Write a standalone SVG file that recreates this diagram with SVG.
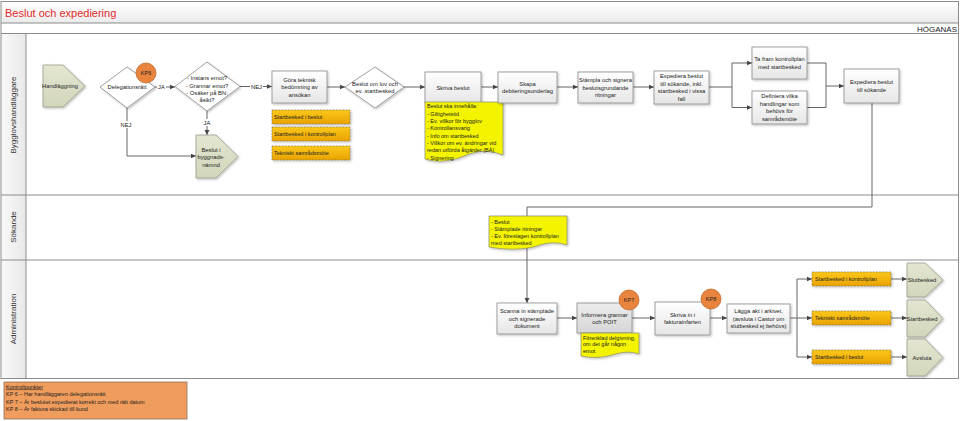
<svg xmlns="http://www.w3.org/2000/svg" width="960" height="421" viewBox="0 0 960 421">
<style>
text{font-family:"Liberation Sans",Arial,sans-serif;fill:#222}
.t{font-size:5.8px;text-anchor:middle}
.n{font-size:5.5px}
.lab{font-size:5.8px;text-anchor:middle}
.lane{font-size:8px;text-anchor:middle;fill:#333}
.box{fill:url(#gBox);stroke:#8a8a8a;stroke-width:0.8;filter:url(#sh)}
.dia{fill:#fff;stroke:#8a8a8a;stroke-width:0.8;filter:url(#sh)}
.pent{fill:url(#gPent);stroke:#9a9a8a;stroke-width:0.8;filter:url(#sh)}
.org{fill:url(#gOrg);stroke:#8a7a50;stroke-width:0.7;stroke-dasharray:2 1.2;filter:url(#sh)}
.note{fill:#f4f400;stroke:#8a8a6a;stroke-width:0.7;filter:url(#sh)}
.kp{fill:#e8843e;stroke:#c0692c;stroke-width:0.8}
.kpt{font-size:5.5px;text-anchor:middle}
.c{fill:none;stroke:#555;stroke-width:0.9}
.ca{fill:none;stroke:#555;stroke-width:0.9;marker-end:url(#ar)}
.frame{fill:none;stroke:#8c8c8c;stroke-width:1}
.bg{fill:#fff;stroke:none}
</style>
<defs>
<linearGradient id="gBox" x1="0" y1="0" x2="0" y2="1"><stop offset="0" stop-color="#ffffff"/><stop offset="1" stop-color="#e6e6e6"/></linearGradient>
<linearGradient id="gGray" x1="0" y1="0" x2="0" y2="1"><stop offset="0" stop-color="#ececec"/><stop offset="1" stop-color="#d6d6d6"/></linearGradient>
<linearGradient id="gPent" x1="0" y1="0" x2="0" y2="1"><stop offset="0" stop-color="#e4e6d2"/><stop offset="1" stop-color="#d2d6ba"/></linearGradient>
<linearGradient id="gOrg" x1="0" y1="0" x2="0" y2="1"><stop offset="0" stop-color="#fbc81a"/><stop offset="1" stop-color="#eaa200"/></linearGradient>
<linearGradient id="gTitle" x1="0" y1="0" x2="0" y2="1"><stop offset="0" stop-color="#ffffff"/><stop offset="1" stop-color="#ebebeb"/></linearGradient>
<linearGradient id="gHead" x1="0" y1="0" x2="1" y2="0"><stop offset="0" stop-color="#fafafa"/><stop offset="1" stop-color="#e8e8e8"/></linearGradient>
<filter id="sh" x="-10%" y="-10%" width="130%" height="140%"><feDropShadow dx="1.2" dy="1.2" stdDeviation="0.8" flood-color="#000" flood-opacity="0.25"/></filter>
<marker id="ar" markerUnits="userSpaceOnUse" markerWidth="6" markerHeight="6" refX="5.5" refY="3" orient="auto"><path d="M0,0.4 L5.5,3 L0,5.6 z" fill="#444"/></marker>
</defs>

<rect x="0" y="0" width="960" height="421" fill="#fff"/>

<g id="frame">
<rect x="1" y="1.5" width="957.5" height="21.5" fill="url(#gTitle)"/>
<rect x="1" y="33.5" width="25" height="345" fill="url(#gHead)"/>
<rect x="1" y="1.5" width="957.5" height="377" class="frame"/>
<line x1="1" y1="23" x2="958.5" y2="23" class="frame"/>
<line x1="1" y1="33.5" x2="958.5" y2="33.5" class="frame"/>
<line x1="1" y1="195" x2="958.5" y2="195" class="frame"/>
<line x1="1" y1="260" x2="958.5" y2="260" class="frame"/>
<line x1="26" y1="33.5" x2="26" y2="378.5" class="frame"/>
<text x="5" y="17" style="font-size:11px;fill:#e02b2b">Beslut och expediering</text>
<text x="957" y="32" style="font-size:8px;text-anchor:end;fill:#222">HÖGANÄS</text>
<text class="lane" transform="translate(16,115) rotate(-90)">Bygglovshandläggare</text>
<text class="lane" transform="translate(16,227) rotate(-90)">Sökande</text>
<text class="lane" transform="translate(16,319) rotate(-90)">Administration</text>
</g>

<g id="connectors">
<path class="ca" d="M155,87 H175"/>
<path class="ca" d="M127,108 V156 H196"/>
<path class="ca" d="M207,111 V135"/>
<path class="ca" d="M240,86.5 H272"/>
<path class="ca" d="M327,87 H345"/>
<path class="ca" d="M404,87 H425"/>
<path class="ca" d="M481,87 H498"/>
<path class="ca" d="M557,87 H578"/>
<path class="ca" d="M633,87 H654"/>
<path class="c" d="M709,87 H732 M732,63 V107.5"/>
<path class="ca" d="M732,63 H752"/>
<path class="ca" d="M732,107.5 H752"/>
<path class="c" d="M807,63 H826 V107.5 H807"/>
<path class="ca" d="M826,86 H844"/>
<path class="ca" d="M872,103 V207 H527 V303"/>
<path class="ca" d="M557,318 H577"/>
<path class="ca" d="M632,318 H655"/>
<path class="ca" d="M710,318 H727"/>
<path class="c" d="M790,318 H797 M797,279 V357"/>
<path class="ca" d="M797,279 H812"/>
<path class="ca" d="M797,318 H812"/>
<path class="ca" d="M797,357 H812"/>
<path class="ca" d="M891,279 H907"/>
<path class="ca" d="M891,318 H907"/>
<path class="ca" d="M891,357 H907"/>
<rect class="bg" x="157" y="83" width="9" height="7"/>
<text class="lab" x="161.5" y="89">JA</text>
<rect class="bg" x="120" y="121" width="12" height="7"/>
<text class="lab" x="126" y="127">NEJ</text>
<rect class="bg" x="202" y="119" width="10" height="7"/>
<text class="lab" x="207" y="125">JA</text>
<rect class="bg" x="250" y="83" width="13" height="7"/>
<text class="lab" x="256.5" y="89">NEJ</text>
</g>

<g id="handlaggning">
<polygon class="pent" points="43,65 63,65 85,86 63,107 43,107"/>
<text class="t" x="60" y="88">Handläggning</text>
</g>

<g id="delegationsratt">
<polygon class="dia" points="100,87 127,67 155,87 127,108"/>
<text class="t" x="127" y="89">Delegationsrätt</text>
</g>

<g id="kp6">
<circle class="kp" cx="146" cy="73" r="10"/>
<text class="kpt" x="146" y="75">KP6</text>
</g>

<g id="instans">
<polygon class="dia" points="175,86.5 207,62 240,86.5 207,111"/>
<text class="t"><tspan x="207" y="80">- Instans emot?</tspan><tspan x="207" y="87.5">- Grannar emot?</tspan><tspan x="207" y="95">- Osäker på BN:</tspan><tspan x="207" y="102">åsikt?</tspan></text>
</g>

<g id="nämnd">
<polygon class="pent" points="196,135 216,135 238,156.5 216,178 196,178"/>
<text class="t"><tspan x="211" y="151.5">Beslut i</tspan><tspan x="211" y="159">byggnads-</tspan><tspan x="211" y="166.5">nämnd</tspan></text>
</g>

<g id="gora">
<rect class="box" x="272" y="71" width="55" height="32"/>
<text class="t"><tspan x="299.5" y="81.5">Göra teknisk</tspan><tspan x="299.5" y="89">bedömning av</tspan><tspan x="299.5" y="96.5">ansökan</tspan></text>
</g>

<g id="ob1"><rect class="org" x="272" y="110" width="78" height="14"/><text class="n" x="274" y="119">Startbesked i beslut</text></g>
<g id="ob2"><rect class="org" x="272" y="127" width="78" height="14"/><text class="n" x="274" y="136">Startbesked i kontrollplan</text></g>
<g id="ob3"><rect class="org" x="272" y="146" width="78" height="14"/><text class="n" x="274" y="155">Tekniskt samrådsmöte</text></g>

<g id="beslutomlov">
<polygon class="dia" points="345,87 375,67 404,87 375,108"/>
<text class="t"><tspan x="375" y="85.5">Beslut om lov och</tspan><tspan x="375" y="93">ev. startbesked</tspan></text>
</g>

<g id="skrivabeslut">
<rect class="box" x="425" y="72" width="56" height="31"/>
<text class="t" x="453" y="89.5">Skriva beslut</text>
</g>

<g id="note1">
<path class="note" d="M425,102 H503 V155 C490,150 478,150 464,156 C452,161 438,163 425,159 Z"/>
<text class="n"><tspan x="427" y="108">Beslut ska innehålla:</tspan><tspan x="427" y="115.5">- Giltighetstid</tspan><tspan x="427" y="123">- Ev. villkor för  bygglov</tspan><tspan x="427" y="130">- Kontrollansvarig</tspan><tspan x="427" y="137.5">- Info om startbesked</tspan><tspan x="427" y="145">- Villkor om ev. ändringar vid</tspan><tspan x="427" y="152">redan utförda åtgärder (BÄ)</tspan><tspan x="427" y="159.5">- Signering</tspan></text>
</g>

<g id="skapa">
<rect class="box" x="498" y="72" width="59" height="31"/>
<text class="t"><tspan x="527.5" y="85.5">Skapa</tspan><tspan x="527.5" y="93">debiteringsunderlag</tspan></text>
</g>

<g id="stampla">
<rect class="box" x="578" y="72" width="55" height="31"/>
<text class="t"><tspan x="605.5" y="82">Stämpla och signera</tspan><tspan x="605.5" y="89.5">beslutsgrundande</tspan><tspan x="605.5" y="97">ritningar</tspan></text>
</g>

<g id="expediera1">
<rect class="box" x="654" y="71" width="55" height="33"/>
<text class="t"><tspan x="681.5" y="78">Expediera beslut</tspan><tspan x="681.5" y="85.5">till sökande, inkl.</tspan><tspan x="681.5" y="93">startbesked i vissa</tspan><tspan x="681.5" y="100.5">fall</tspan></text>
</g>

<g id="tafram">
<rect class="box" x="752" y="47" width="55" height="32"/>
<text class="t"><tspan x="779.5" y="61">Ta fram kontrollplan</tspan><tspan x="779.5" y="68.5">med startbesked</tspan></text>
</g>

<g id="definiera">
<rect class="box" x="752" y="91" width="55" height="33"/>
<text class="t"><tspan x="779.5" y="98">Definiera vilka</tspan><tspan x="779.5" y="105.5">handlingar som</tspan><tspan x="779.5" y="113">behövs för</tspan><tspan x="779.5" y="120.5">samrådsmöte</tspan></text>
</g>

<g id="expediera2">
<rect class="box" x="844" y="69" width="55" height="34"/>
<text class="t"><tspan x="871.5" y="84">Expediera beslut</tspan><tspan x="871.5" y="91.5">till sökande</tspan></text>
</g>

<g id="note2">
<path class="note" d="M489,216 H567 V245 C557,242 548,242 537,246 C524,250 505,250 489,247 Z"/>
<text class="n"><tspan x="491" y="224">- Beslut</tspan><tspan x="491" y="231">- Stämplade ritningar</tspan><tspan x="491" y="238">- Ev. föreslagen kontrollplan</tspan><tspan x="491" y="245">med startbesked</tspan></text>
</g>

<g id="scanna">
<rect class="box" x="497" y="303" width="60" height="31"/>
<text class="t"><tspan x="527" y="313">Scanna in stämplade</tspan><tspan x="527" y="320.5">och signerade</tspan><tspan x="527" y="328">dokument</tspan></text>
</g>

<g id="informera">
<rect x="577" y="303" width="55" height="30" fill="url(#gGray)" stroke="#8a8a8a" stroke-width="0.8" filter="url(#sh)"/>
<text class="t"><tspan x="604.5" y="316.5">Informera grannar</tspan><tspan x="604.5" y="324">och POIT</tspan></text>
</g>

<g id="note3">
<path class="note" d="M581,333 H639 V354 C630,351 622,352 612,355 C602,358 591,358 581,356 Z"/>
<text class="n"><tspan x="583" y="339.5">Förenklad delgivning,</tspan><tspan x="583" y="346">om det går någon</tspan><tspan x="583" y="352.5">emot</tspan></text>
</g>

<g id="kp7">
<circle class="kp" cx="629" cy="300" r="10"/>
<text class="kpt" x="629" y="302">KP7</text>
</g>

<g id="skrivain">
<rect class="box" x="655" y="302" width="55" height="33"/>
<text class="t"><tspan x="682.5" y="316.5">Skriva in i</tspan><tspan x="682.5" y="324">fakturainfarten</tspan></text>
</g>

<g id="kp8">
<circle class="kp" cx="711" cy="299" r="10"/>
<text class="kpt" x="711" y="301">KP8</text>
</g>

<g id="lagga">
<rect class="box" x="727" y="304" width="63" height="29"/>
<text class="t"><tspan x="758.5" y="313">Lägga akt i arkivet,</tspan><tspan x="758.5" y="320.5">(avsluta i Castor om</tspan><tspan x="758.5" y="328">slutbesked ej behövs)</tspan></text>
</g>

<g id="ob4"><rect class="org" x="812" y="272" width="79" height="14"/><text class="n" x="815" y="281">Startbesked i kontrollplan</text></g>
<g id="ob5"><rect class="org" x="812" y="311" width="79" height="14"/><text class="n" x="815" y="320">Tekniskt samrådsmöte</text></g>
<g id="ob6"><rect class="org" x="812" y="350" width="79" height="14"/><text class="n" x="815" y="359">Startbesked i beslut</text></g>

<g id="slutbesked">
<polygon class="pent" points="907,263 925,263 943,280 925,297 907,297"/>
<text class="t" x="922" y="282">Slutbesked</text>
</g>
<g id="startbesked">
<polygon class="pent" points="907,300 925,300 943,318.5 925,337 907,337"/>
<text class="t" x="922" y="320.5">Startbesked</text>
</g>
<g id="avsluta">
<polygon class="pent" points="907,339 925,339 943,357.5 925,376 907,376"/>
<text class="t" x="922" y="359.5">Avsluta</text>
</g>

<g id="kontrollpunkter">
<rect x="4" y="382" width="183" height="37" fill="#f09c5c" stroke="#8a7060" stroke-width="0.8"/>
<text class="n"><tspan x="6" y="388.5" text-decoration="underline">Kontrollpunkter</tspan><tspan x="6" y="396">KP 6 – Har handläggaren delegationsrätt</tspan><tspan x="6" y="403.5">KP 7 – Är beslutet expedierat korrekt och med rätt datum</tspan><tspan x="6" y="411">KP 8 – Är faktura skickad till kund</tspan></text>
</g>
</svg>
